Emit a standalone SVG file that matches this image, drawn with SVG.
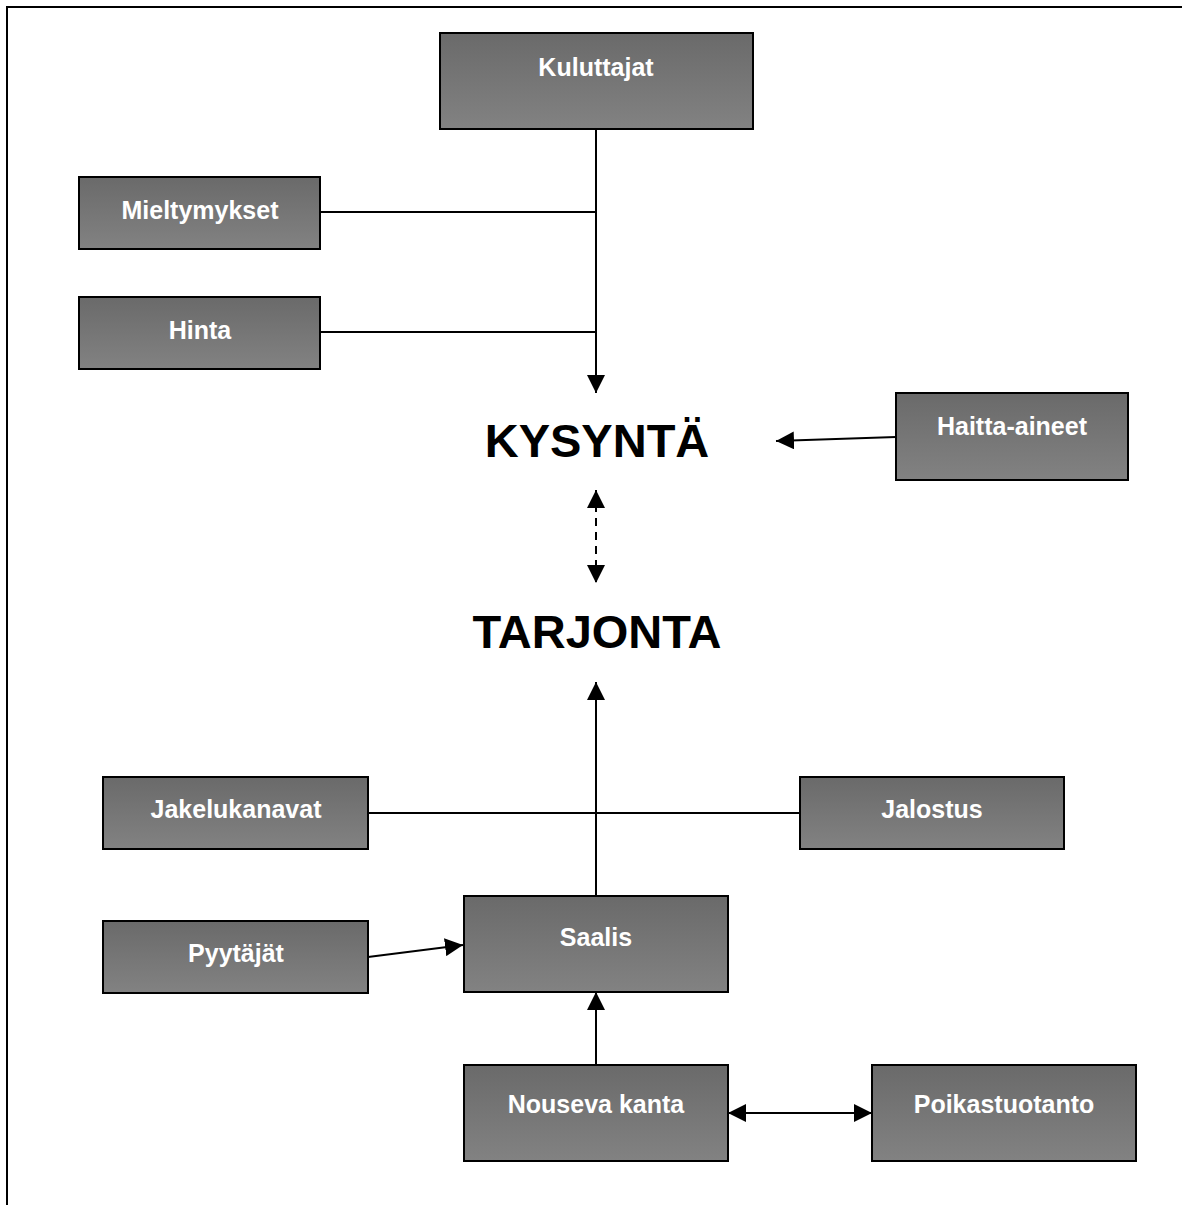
<svg xmlns="http://www.w3.org/2000/svg" width="1182" height="1205" viewBox="0 0 1182 1205">
<style>
.box{stroke:#000;stroke-width:2;fill:url(#g)}
.lbl{font-family:"Liberation Sans",Arial,sans-serif;font-weight:bold;font-size:25px;fill:#fff;text-anchor:middle}
.big{font-family:"Liberation Sans",Arial,sans-serif;font-weight:bold;font-size:47px;fill:#000;text-anchor:middle}
.ln{stroke:#000;stroke-width:2;fill:none}
</style>
<defs>
<linearGradient id="g" x1="0" y1="0" x2="0" y2="1">
<stop offset="0" stop-color="#6a6a6a"/>
<stop offset="1" stop-color="#828282"/>
</linearGradient>
<marker id="ah" markerUnits="userSpaceOnUse" markerWidth="18" markerHeight="18" viewBox="0 0 16 16" refX="16" refY="8" orient="auto-start-reverse">
<path d="M0,0 L16,8 L0,16 Z" fill="#000"/>
</marker>
</defs>
<rect width="1182" height="1205" fill="#fff"/>
<path d="M7,1205 V7 H1182" fill="none" stroke="#000" stroke-width="2"/>
<g id="connectors">
<line class="ln" x1="596" y1="129" x2="596" y2="393" marker-end="url(#ah)"/>
<line class="ln" x1="320" y1="212" x2="596" y2="212"/>
<line class="ln" x1="320" y1="332" x2="596" y2="332"/>
<line class="ln" x1="896" y1="437" x2="776" y2="441" marker-end="url(#ah)"/>
<line class="ln" x1="596" y1="490" x2="596" y2="583" stroke-dasharray="8,6" marker-start="url(#ah)" marker-end="url(#ah)"/>
<line class="ln" x1="596" y1="896" x2="596" y2="682" marker-end="url(#ah)"/>
<line class="ln" x1="368" y1="813" x2="800" y2="813"/>
<line class="ln" x1="368" y1="957" x2="463" y2="945" marker-end="url(#ah)"/>
<line class="ln" x1="596" y1="1065" x2="596" y2="992" marker-end="url(#ah)"/>
<line class="ln" x1="728" y1="1113" x2="872" y2="1113" marker-start="url(#ah)" marker-end="url(#ah)"/>
</g>
<g id="kuluttajat"><rect class="box" x="440" y="33" width="313" height="96"/><text class="lbl" x="596" y="76">Kuluttajat</text></g>
<g id="mieltymykset"><rect class="box" x="79" y="177" width="241" height="72"/><text class="lbl" x="200" y="219">Mieltymykset</text></g>
<g id="hinta"><rect class="box" x="79" y="297" width="241" height="72"/><text class="lbl" x="200" y="339">Hinta</text></g>
<g id="haitta-aineet"><rect class="box" x="896" y="393" width="232" height="87"/><text class="lbl" x="1012" y="435">Haitta-aineet</text></g>
<g id="kysynta"><text class="big" x="597" y="457">KYSYNTÄ</text></g>
<g id="tarjonta"><text class="big" x="597" y="648">TARJONTA</text></g>
<g id="jakelukanavat"><rect class="box" x="103" y="777" width="265" height="72"/><text class="lbl" x="236" y="818">Jakelukanavat</text></g>
<g id="jalostus"><rect class="box" x="800" y="777" width="264" height="72"/><text class="lbl" x="932" y="818">Jalostus</text></g>
<g id="pyytajat"><rect class="box" x="103" y="921" width="265" height="72"/><text class="lbl" x="236" y="962">Pyytäjät</text></g>
<g id="saalis"><rect class="box" x="464" y="896" width="264" height="96"/><text class="lbl" x="596" y="946">Saalis</text></g>
<g id="nouseva-kanta"><rect class="box" x="464" y="1065" width="264" height="96"/><text class="lbl" x="596" y="1113">Nouseva kanta</text></g>
<g id="poikastuotanto"><rect class="box" x="872" y="1065" width="264" height="96"/><text class="lbl" x="1004" y="1113">Poikastuotanto</text></g>
</svg>
